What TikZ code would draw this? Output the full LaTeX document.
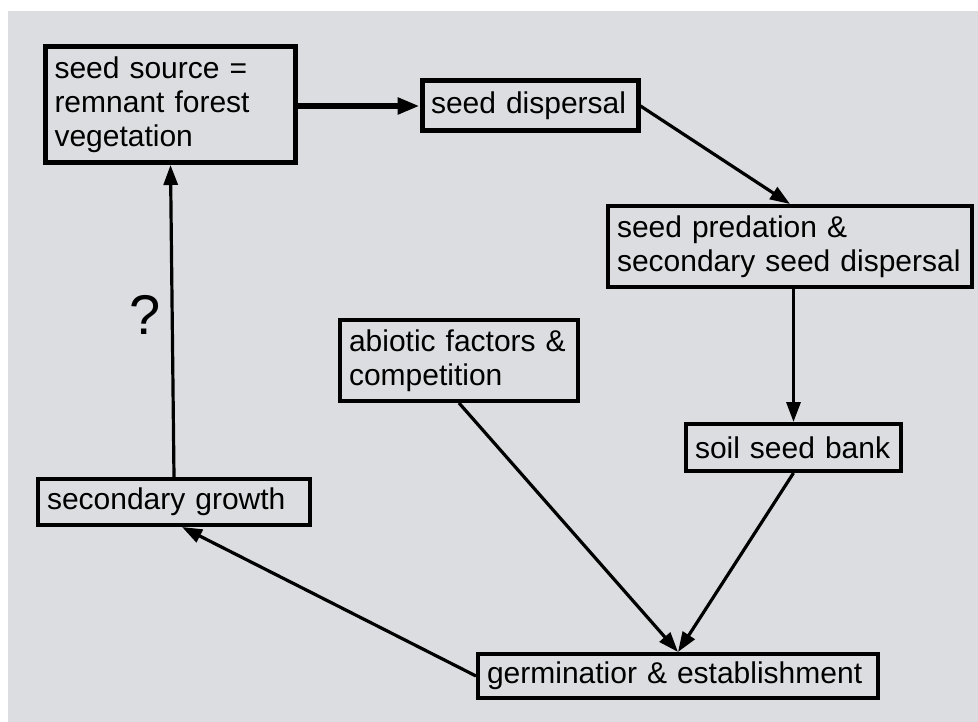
\documentclass[tikz,border=0pt]{standalone}
\usepackage{fontspec}
\setmainfont{Liberation Sans}
\usetikzlibrary{arrows.meta, positioning}
\definecolor{panelgray}{RGB}{220,221,224}
\tikzstyle{box} = [rectangle, draw=black, line width=4pt, fill=panelgray, inner xsep=9pt, inner ysep=0pt, align=left, font=\fontsize{30}{34}\selectfont]
\tikzstyle{thickbox} = [box, line width=5pt]
\tikzstyle{arrow} = [line width=3.2pt, -{Triangle[length=20pt, width=14pt]}]
\tikzstyle{thickarrow} = [arrow, line width=5.5pt, -{Triangle[length=22pt, width=16pt]}]
\tikzstyle{qmark} = [font=\fontsize{56}{60}\selectfont, inner sep=2pt]

\begin{document}
\begin{tikzpicture}[x=1pt, y={(0pt,-1pt)}]

    % Background
    \fill[white] (0,0) rectangle (978,722);
    \fill[panelgray] (8,11) rectangle (978,722);
    \useasboundingbox (0,0) rectangle (978,722);

    % Nodes
    \node (source) [thickbox, minimum width=250pt, minimum height=116pt, text width=232pt] at (170.5,104.5) {seed source =\\remnant forest\\vegetation};
    \node (dispersal) [thickbox, minimum width=216pt, minimum height=50pt, text width=198pt] at (530,106) {seed dispersal};
    \node (predation) [box, minimum width=362pt, minimum height=81pt, text width=346pt] at (790,246.5) {seed predation \&\\secondary seed dispersal};
    \node (abiotic) [box, minimum width=238pt, minimum height=81pt, text width=220pt] at (459,360.5) {abiotic factors \&\\competition};
    \node (bank) [box, minimum width=215pt, minimum height=47pt, text width=197pt] at (793.5,447.5) {soil seed bank};
    \node (growth) [box, minimum width=272pt, minimum height=46pt, text width=254pt] at (174,502) {secondary growth};
    \node (germ) [box, minimum width=400pt, minimum height=44pt, text width=382pt] at (678,676) {germinatior \& establishment};

    % Arrows
    \draw [thickarrow] (source.east |- dispersal.west) -- (dispersal.west);
    \draw [arrow] (dispersal.east) -- (predation.north);
    \draw [arrow] (predation.south -| bank.north) -- (bank.north);
    \draw [arrow] (abiotic.south) -- (germ.north);
    \draw [arrow] (bank.south) -- (germ.north);
    \draw [arrow] (germ.west) -- ([xshift=8pt]growth.south);
    \draw [arrow] (growth.north) -- node[qmark, pos=0.52, left=8pt] {?} (source.south);

\end{tikzpicture}
\end{document}
